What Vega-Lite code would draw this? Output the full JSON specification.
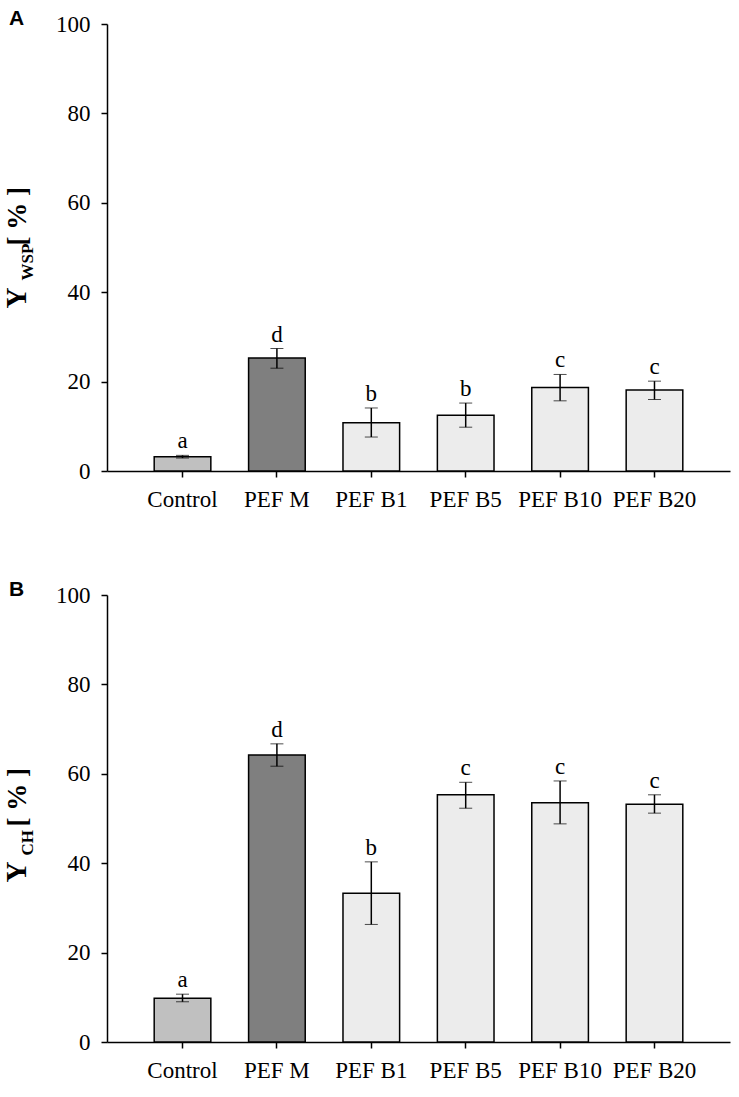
{
  "$schema": "https://vega.github.io/schema/vega-lite/v6.json",
  "padding": {"left": 2, "top": 8, "right": 5, "bottom": 5},
  "background": "white",
  "spacing": 68,
  "config": {
    "view": {"stroke": null},
    "font": "Liberation Serif",
    "axis": {"grid": false, "domainColor": "black", "domainWidth": 1.5, "tickColor": "black", "tickWidth": 1.5, "tickSize": 6, "labelColor": "black", "labelFont": "Liberation Serif", "labelFontSize": 23, "titleColor": "black", "titleFont": "Liberation Serif", "titleFontWeight": "bold"}
  },
  "datasets": {
    "wsp": [
      {"treatment": "Control", "mean": 3.2, "lo": 2.9, "hi": 3.5, "letter": "a"},
      {"treatment": "PEF M", "mean": 25.3, "lo": 23.0, "hi": 27.4, "letter": "d"},
      {"treatment": "PEF B1", "mean": 10.8, "lo": 7.6, "hi": 14.1, "letter": "b"},
      {"treatment": "PEF B5", "mean": 12.5, "lo": 9.8, "hi": 15.2, "letter": "b"},
      {"treatment": "PEF B10", "mean": 18.7, "lo": 15.7, "hi": 21.6, "letter": "c"},
      {"treatment": "PEF B20", "mean": 18.1, "lo": 16.0, "hi": 20.1, "letter": "c"}
    ],
    "ch": [
      {"treatment": "Control", "mean": 9.8, "lo": 9.0, "hi": 10.7, "letter": "a"},
      {"treatment": "PEF M", "mean": 64.2, "lo": 61.7, "hi": 66.7, "letter": "d"},
      {"treatment": "PEF B1", "mean": 33.3, "lo": 26.3, "hi": 40.3, "letter": "b"},
      {"treatment": "PEF B5", "mean": 55.3, "lo": 52.3, "hi": 58.1, "letter": "c"},
      {"treatment": "PEF B10", "mean": 53.5, "lo": 48.8, "hi": 58.4, "letter": "c"},
      {"treatment": "PEF B20", "mean": 53.2, "lo": 51.2, "hi": 55.3, "letter": "c"}
    ]
  },
  "vconcat": [
    {
      "width": 623,
      "height": 447,
      "title": {"text": "A", "anchor": "start", "frame": "bounds", "font": "Liberation Sans", "fontSize": 21, "fontWeight": "bold", "color": "black", "offset": -16, "dx": 7},
      "data": {"name": "wsp"},
      "encoding": {
        "x": {"field": "treatment", "type": "nominal", "sort": null, "scale": {"paddingInner": 0.4, "paddingOuter": 0.5}, "axis": {"title": null, "labelAngle": 0, "labelPadding": 11, "labelFont": "Liberation Serif", "labelFontSize": 23, "labelColor": "black"}}
      },
      "layer": [
        {
          "mark": {"type": "bar", "stroke": "black", "strokeWidth": 1.5},
          "encoding": {
            "y": {"field": "mean", "type": "quantitative", "scale": {"domain": [0, 100]}, "axis": {"orient": "left", "values": [0, 20, 40, 60, 80, 100], "labelPadding": 11, "labelFont": "Liberation Serif", "labelFontSize": 23, "labelColor": "black", "title": "Y", "titleFontSize": 29, "titleAngle": -90, "titleAlign": "left", "titleBaseline": "alphabetic", "titleX": -82, "titleY": 284}},
            "fill": {"field": "treatment", "type": "nominal", "scale": {"domain": ["Control", "PEF M", "PEF B1", "PEF B5", "PEF B10", "PEF B20"], "range": ["#c0c0c0", "#7f7f7f", "#ececec", "#ececec", "#ececec", "#ececec"]}, "legend": null}
          }
        },
        {
          "mark": {"type": "errorbar", "ticks": {"size": 13, "color": "black", "strokeWidth": 1.5}, "rule": {"color": "black", "strokeWidth": 1.5}},
          "encoding": {
            "y": {"field": "lo", "type": "quantitative", "axis": {"orient": "left", "domain": false, "ticks": false, "labels": false, "title": "WSP", "titleFontSize": 17, "titleAngle": -90, "titleAlign": "left", "titleBaseline": "alphabetic", "titleX": -75, "titleY": 256}},
            "y2": {"field": "hi"}
          }
        },
        {
          "mark": {"type": "text", "baseline": "alphabetic", "dy": -7, "fontSize": 23, "color": "black", "font": "Liberation Serif"},
          "encoding": {
            "y": {"field": "hi", "type": "quantitative", "axis": {"orient": "left", "domain": false, "ticks": false, "labels": false, "title": "[ % ]", "titleFontSize": 27, "titleAngle": -90, "titleAlign": "left", "titleBaseline": "alphabetic", "titleX": -82, "titleY": 221}},
            "text": {"field": "letter"}
          }
        }
      ],
      "resolve": {"axis": {"y": "independent"}}
    },
    {
      "width": 623,
      "height": 447,
      "title": {"text": "B", "anchor": "start", "frame": "bounds", "font": "Liberation Sans", "fontSize": 21, "fontWeight": "bold", "color": "black", "offset": -16, "dx": 7},
      "data": {"name": "ch"},
      "encoding": {
        "x": {"field": "treatment", "type": "nominal", "sort": null, "scale": {"paddingInner": 0.4, "paddingOuter": 0.5}, "axis": {"title": null, "labelAngle": 0, "labelPadding": 11, "labelFont": "Liberation Serif", "labelFontSize": 23, "labelColor": "black"}}
      },
      "layer": [
        {
          "mark": {"type": "bar", "stroke": "black", "strokeWidth": 1.5},
          "encoding": {
            "y": {"field": "mean", "type": "quantitative", "scale": {"domain": [0, 100]}, "axis": {"orient": "left", "values": [0, 20, 40, 60, 80, 100], "labelPadding": 11, "labelFont": "Liberation Serif", "labelFontSize": 23, "labelColor": "black", "title": "Y", "titleFontSize": 29, "titleAngle": -90, "titleAlign": "left", "titleBaseline": "alphabetic", "titleX": -82, "titleY": 287}},
            "fill": {"field": "treatment", "type": "nominal", "scale": {"domain": ["Control", "PEF M", "PEF B1", "PEF B5", "PEF B10", "PEF B20"], "range": ["#c0c0c0", "#7f7f7f", "#ececec", "#ececec", "#ececec", "#ececec"]}, "legend": null}
          }
        },
        {
          "mark": {"type": "errorbar", "ticks": {"size": 13, "color": "black", "strokeWidth": 1.5}, "rule": {"color": "black", "strokeWidth": 1.5}},
          "encoding": {
            "y": {"field": "lo", "type": "quantitative", "axis": {"orient": "left", "domain": false, "ticks": false, "labels": false, "title": "CH", "titleFontSize": 17, "titleAngle": -90, "titleAlign": "left", "titleBaseline": "alphabetic", "titleX": -75, "titleY": 260}},
            "y2": {"field": "hi"}
          }
        },
        {
          "mark": {"type": "text", "baseline": "alphabetic", "dy": -7, "fontSize": 23, "color": "black", "font": "Liberation Serif"},
          "encoding": {
            "y": {"field": "hi", "type": "quantitative", "axis": {"orient": "left", "domain": false, "ticks": false, "labels": false, "title": "[ % ]", "titleFontSize": 27, "titleAngle": -90, "titleAlign": "left", "titleBaseline": "alphabetic", "titleX": -82, "titleY": 231}},
            "text": {"field": "letter"}
          }
        }
      ],
      "resolve": {"axis": {"y": "independent"}}
    }
  ]
}
